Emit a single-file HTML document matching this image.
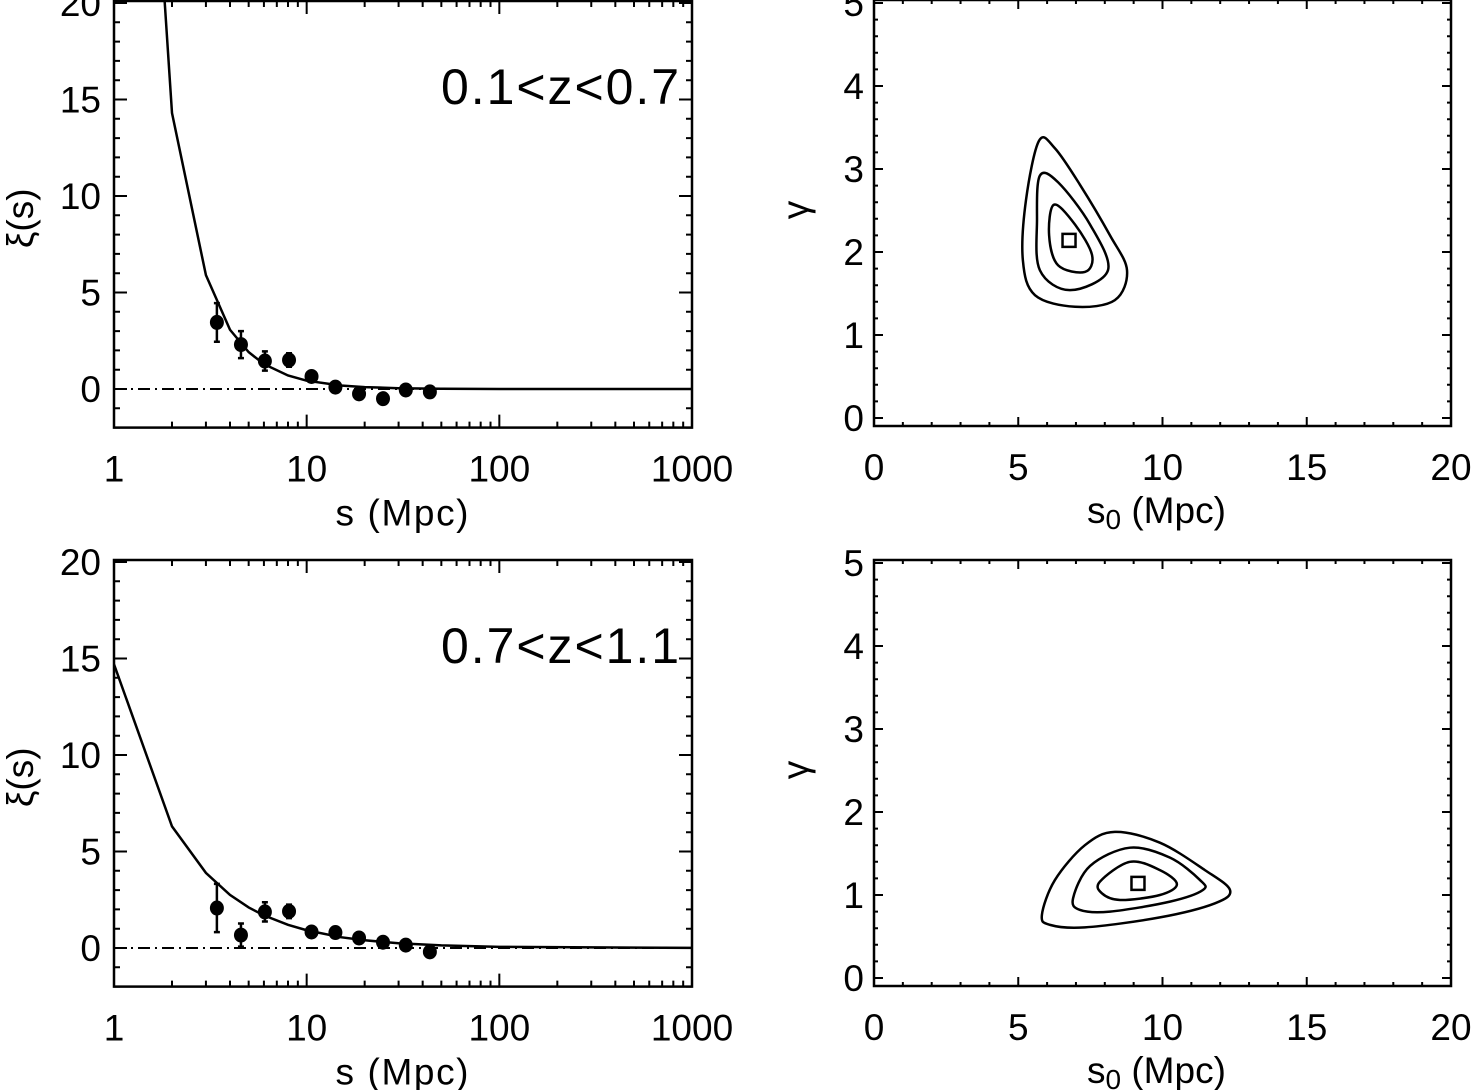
<!DOCTYPE html>
<html><head><meta charset="utf-8">
<style>
html,body{margin:0;padding:0;background:#fff;}
svg{display:block;font-family:"Liberation Sans","DejaVu Sans",sans-serif;}
</style></head>
<body>
<svg id="fig" width="1471" height="1090" viewBox="0 0 1471 1090" xmlns="http://www.w3.org/2000/svg"></svg>
<script>
// ---- data ----
const sBins = [3.42, 4.56, 6.07, 8.1, 10.6, 14.1, 18.7, 24.9, 32.7, 43.6];
const xiTop = [3.45, 2.3, 1.45, 1.5, 0.65, 0.1, -0.25, -0.5, -0.05, -0.15];
const errTop = [1.0, 0.7, 0.5, 0.35, 0.2, 0.15, 0.15, 0.15, 0.15, 0.15];
const xiBot = [2.07, 0.67, 1.87, 1.9, 0.83, 0.8, 0.52, 0.3, 0.15, -0.2];
const errBot = [1.25, 0.6, 0.5, 0.35, 0.15, 0.15, 0.15, 0.15, 0.15, 0.15];
const modelS = [1, 2, 3, 4, 5, 6, 8, 10, 15, 20, 30, 50, 100, 1000];
const modelTop = [60, 14.3, 5.9, 3.07, 1.91, 1.29, 0.70, 0.43, 0.18, 0.098, 0.041, 0.014, 0.003, 0];
const modelBot = [14.7, 6.3, 3.89, 2.75, 2.1, 1.69, 1.2, 0.92, 0.56, 0.40, 0.245, 0.133, 0.058, 0.004];
const topOuterS0 = [5.72, 5.27, 5.16, 5.58, 6.97, 8.35, 8.77, 8.18, 7.14, 6.27];
const topOuterG = [3.34, 2.63, 1.90, 1.48, 1.34, 1.42, 1.78, 2.20, 2.81, 3.25];
const topMidS0 = [5.75, 5.65, 5.75, 6.79, 8.11, 7.49, 6.38];
const topMidG = [2.92, 2.39, 1.78, 1.54, 1.78, 2.33, 2.84];
const topInS0 = [6.24, 6.07, 6.38, 7.31, 7.56, 6.97];
const topInG = [2.57, 2.20, 1.84, 1.76, 1.96, 2.33];
const topBest = [6.76, 2.14];
const botOuterS0 = [5.82, 6.27, 7.31, 8.35, 9.91, 11.47, 12.34, 11.82, 9.91, 7.31, 6.10];
const botOuterG = [0.76, 1.18, 1.60, 1.76, 1.63, 1.30, 1.06, 0.90, 0.73, 0.61, 0.64];
const botMidS0 = [6.90, 7.49, 8.87, 10.26, 11.30, 11.40, 10.26, 8.18, 7.14];
const botMidG = [0.96, 1.35, 1.57, 1.45, 1.18, 1.06, 0.92, 0.80, 0.82];
const botInS0 = [7.83, 8.87, 9.91, 10.50, 9.91, 8.53, 7.90];
const botInG = [1.16, 1.40, 1.30, 1.13, 1.00, 0.94, 1.02];
const botBest = [9.15, 1.14];
const xiTicks = ["0", "5", "10", "15", "20"];
const sTicks = ["1", "10", "100", "1000"];
const s0Ticks = ["0", "5", "10", "15", "20"];
const gTicks = ["0", "1", "2", "3", "4", "5"];

// ---- helpers ----
const NS = "http://www.w3.org/2000/svg";
const svg = document.getElementById("fig");
const FS = 37;
function mk(tag, attrs, parent) {
  const e = document.createElementNS(NS, tag);
  for (const k in attrs) e.setAttribute(k, attrs[k]);
  (parent || svg).appendChild(e);
  return e;
}
function txt(x, y, s, size, anchor, parent, name) {
  const t = mk("text", {x: x, y: y, "font-size": size, "text-anchor": anchor || "middle", fill: "#000"}, parent);
  t.textContent = s;
  
  
  return t;
}

// ---- left panels (log x) ----
function leftPanel(y0px, y20px, label, xi, err, model, pname) {
  const g = mk("g", {});
  
  
  const L = 114, R = 692;
  const X = s => L + (Math.log10(s)) * (R - L) / 3;
  const Y = v => y0px + (y20px - y0px) * v / 20;
  const T = Y(20) - 2, B = Y(-2);
  const id = "clip" + pname;
  const cp = mk("clipPath", {id: id}, g);
  mk("rect", {x: L, y: T, width: R - L, height: B - T}, cp);
  let d = "";
  for (let v = -2; v <= 20; v++) {
    const len = v % 5 === 0 ? 13 : 6;
    d += `M${L},${Y(v)}h${len}M${R},${Y(v)}h${-len}`;
  }
  for (let dec = 0; dec < 3; dec++) {
    for (let m = 1; m <= 9; m++) {
      const s = Math.pow(10, dec) * m;
      const len = m === 1 ? 13 : 6;
      d += `M${X(s)},${B}v${-len}M${X(s)},${T}v${len}`;
    }
  }
  const tk = mk("path", {d: d, stroke: "#000", "stroke-width": 2, fill: "none"}, g);
  
  
  const box = mk("rect", {x: L, y: T, width: R - L, height: B - T, fill: "none", stroke: "#000", "stroke-width": 2.5}, g);
  
  
  xiTicks.forEach(t => txt(L - 13, Y(+t) + 13, t, FS, "end", g, "y-tick-label"));
  sTicks.forEach(t => txt(X(+t), B + 54, t, FS, "middle", g, "x-tick-label"));
  const xt = txt(402, B + 98, "s (Mpc)", FS, "middle", g, "x-axis-title");
  xt.setAttribute("textLength", 133);
  const yt = txt(0, 0, "\u03be(s)", FS, "middle", g, "y-axis-title");
  yt.setAttribute("transform", `translate(33,${(T + B) / 2 + 4}) rotate(-90)`);
  const lb = txt(441, T + 103, label, 50, "start", g, "redshift-label");
  lb.setAttribute("textLength", 238);
  const z = mk("line", {x1: L, x2: R, y1: Y(0), y2: Y(0), stroke: "#000", "stroke-width": 2, "stroke-dasharray": "12,5,2,5"}, g);
  
  
  const pts = modelS.map((s, i) => `${X(s)},${Y(model[i])}`).join(" ");
  const ml = mk("polyline", {points: pts, fill: "none", stroke: "#000", "stroke-width": 2.5, "clip-path": `url(#${id})`}, g);
  
  
  sBins.forEach((s, i) => {
    const x = X(s);
    const e = mk("path", {d: `M${x},${Y(xi[i] - err[i])}V${Y(xi[i] + err[i])}M${x - 3},${Y(xi[i] - err[i])}h6M${x - 3},${Y(xi[i] + err[i])}h6`, stroke: "#000", "stroke-width": 2.5, fill: "none"}, g);
    
    
    const c = mk("ellipse", {cx: x, cy: Y(xi[i]), rx: 7, ry: 7.5, fill: "#000"}, g);
    
    
  });
}

// ---- right panels (contours) ----
function smoothClosed(P) {
  const n = P.length;
  let d = `M${P[0][0]},${P[0][1]}`;
  for (let i = 0; i < n; i++) {
    const p0 = P[(i - 1 + n) % n], p1 = P[i], p2 = P[(i + 1) % n], p3 = P[(i + 2) % n];
    const c1 = [p1[0] + (p2[0] - p0[0]) / 6, p1[1] + (p2[1] - p0[1]) / 6];
    const c2 = [p2[0] - (p3[0] - p1[0]) / 6, p2[1] - (p3[1] - p1[1]) / 6];
    d += `C${c1[0]},${c1[1]} ${c2[0]},${c2[1]} ${p2[0]},${p2[1]}`;
  }
  return d + "Z";
}
function rightPanel(gy0, gy5, contours, best, pname) {
  const g = mk("g", {});
  
  
  const L = 874, R = 1451;
  const X = v => L + (R - L) * v / 20;
  const Y = v => gy0 + (gy5 - gy0) * v / 5;
  const T = Y(5) - 3, B = Y(0) + 8;
  let d = "";
  for (let v = 0; v <= 20; v++) {
    const len = v % 5 === 0 ? 9 : 4;
    d += `M${X(v)},${B}v${-len}M${X(v)},${T}v${len}`;
  }
  for (let k = 0; k <= 25; k++) {
    const v = k * 0.2, len = k % 5 === 0 ? 9 : 4;
    d += `M${L},${Y(v)}h${len}M${R},${Y(v)}h${-len}`;
  }
  const tk = mk("path", {d: d, stroke: "#000", "stroke-width": 2, fill: "none"}, g);
  
  
  const box = mk("rect", {x: L, y: T, width: R - L, height: B - T, fill: "none", stroke: "#000", "stroke-width": 2.5}, g);
  
  
  gTicks.forEach(t => txt(L - 10, Y(+t) + 13, t, FS, "end", g, "y-tick-label"));
  s0Ticks.forEach(t => txt(X(+t), B + 54, t, FS, "middle", g, "x-tick-label"));
  const xt = mk("text", {x: 1087, y: B + 97, "font-size": FS, "text-anchor": "start"}, g);
  
  
  xt.innerHTML = 's<tspan font-size="28" dy="6">0</tspan><tspan dy="-6"> (Mpc)</tspan>';
  const yt = txt(0, 0, "\u03b3", FS, "middle", g, "y-axis-title");
  yt.setAttribute("transform", `translate(808,${(T + B) / 2 - 3}) rotate(-90)`);
  contours.forEach(c => {
    const P = c[0].map((s, i) => [X(s), Y(c[1][i])]);
    const p = mk("path", {d: smoothClosed(P), fill: "none", stroke: "#000", "stroke-width": 2.5}, g);
    
    
  });
  const sq = mk("rect", {x: X(best[0]) - 6.5, y: Y(best[1]) - 6.5, width: 13, height: 13, fill: "none", stroke: "#000", "stroke-width": 2.5}, g);
  
  
}

leftPanel(389, 3, "0.1<z<0.7", xiTop, errTop, modelTop, "xi-panel-low-z");
leftPanel(948, 562, "0.7<z<1.1", xiBot, errBot, modelBot, "xi-panel-high-z");
rightPanel(418, 3, [[topOuterS0, topOuterG], [topMidS0, topMidG], [topInS0, topInG]], topBest, "contour-panel-low-z");
rightPanel(978, 563, [[botOuterS0, botOuterG], [botMidS0, botMidG], [botInS0, botInG]], botBest, "contour-panel-high-z");
</script>
</body></html>
